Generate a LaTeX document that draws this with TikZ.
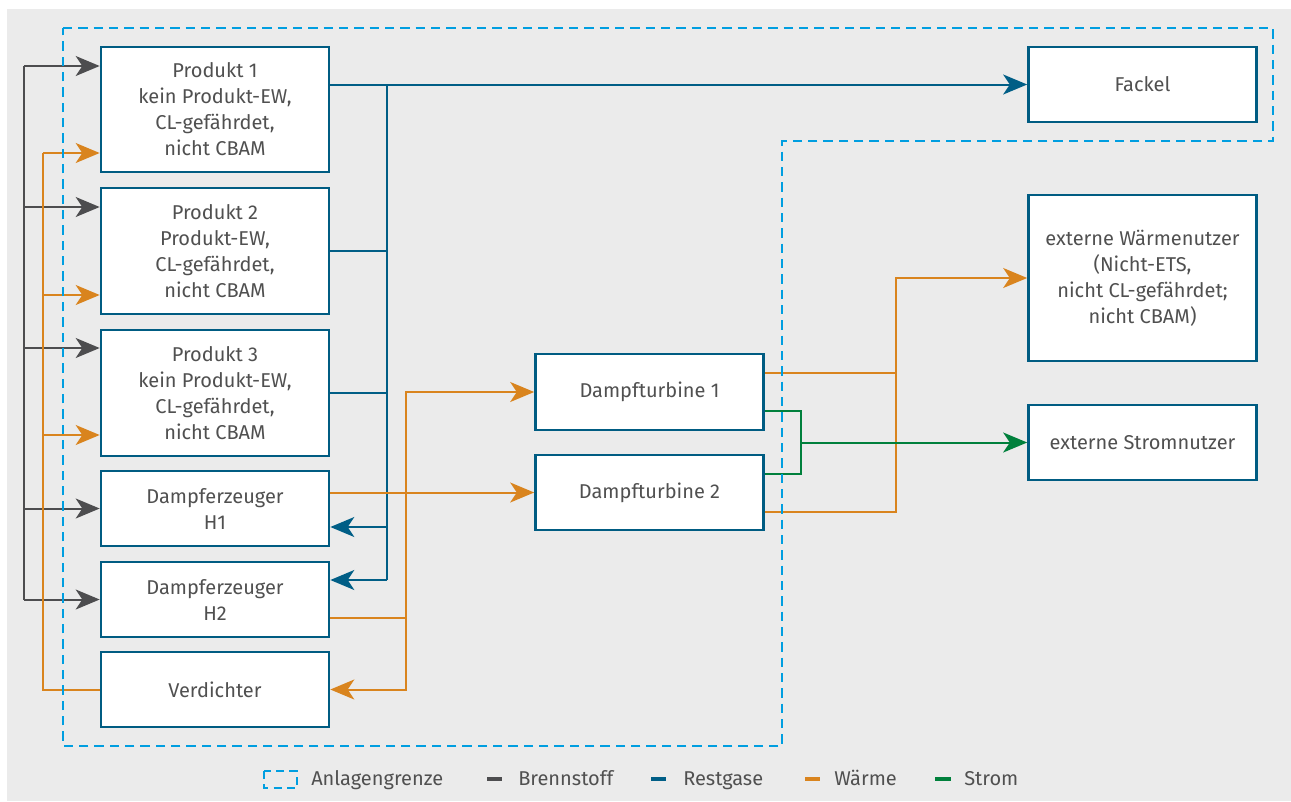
\documentclass[tikz,border=0pt]{standalone}
\usepackage{fontspec}
\setmainfont{Fira Sans}
\usetikzlibrary{arrows.meta,calc}

\definecolor{hgrund}{RGB}{235,235,235}
\definecolor{rahmen}{RGB}{0,92,130}
\definecolor{grenzfarbe}{RGB}{0,158,224}
\definecolor{bsfarbe}{RGB}{77,77,79}
\definecolor{rgfarbe}{RGB}{0,94,134}
\definecolor{wmfarbe}{RGB}{217,132,30}
\definecolor{stfarbe}{RGB}{0,128,60}
\definecolor{schrift}{RGB}{80,80,80}

\tikzset{
  anlage/.style={draw=rahmen, line width=2pt, fill=white, text=schrift,
    align=center, inner sep=0pt, minimum width=171pt,
    font=\fontsize{15}{19.5}\selectfont},
  flow/.style={-{Stealth[length=18pt,width=15pt,inset=5pt]}},
  bs/.style={draw=bsfarbe, line width=1.5pt},
  rg/.style={draw=rgfarbe, line width=1.5pt},
  wm/.style={draw=wmfarbe, line width=1.5pt},
  st/.style={draw=stfarbe, line width=1.5pt},
  grenze/.style={draw=grenzfarbe, line width=1.5pt, dash pattern=on 7pt off 4.5pt},
  legtext/.style={text=schrift, anchor=base west, inner sep=0pt,
    font=\fontsize{15}{18}\selectfont}
}

\begin{document}
\begin{tikzpicture}[x=0.75pt,y=-0.75pt]
\useasboundingbox (0,0) rectangle (1291,801);
\fill[hgrund] (7,9) rectangle (1291,801);

% Anlagenteile
\node[anlage, minimum height=93.75pt] (p1) at (215,109.5) {Produkt 1\\kein Produkt-EW,\\CL-gefährdet,\\nicht CBAM};
\node[anlage, minimum height=94.5pt] (p2) at (215,251) {Produkt 2\\Produkt-EW,\\CL-gefährdet,\\nicht CBAM};
\node[anlage, minimum height=94.5pt] (p3) at (215,393) {Produkt 3\\kein Produkt-EW,\\CL-gefährdet,\\nicht CBAM};
\node[anlage, minimum height=56.25pt] (h1) at (215,508.5) {Dampferzeuger\\H1};
\node[anlage, minimum height=56.25pt] (h2) at (215,599.5) {Dampferzeuger\\H2};
\node[anlage, minimum height=56.25pt] (vd) at (215,689.5) {Verdichter};
\node[anlage, minimum height=57pt] (dt1) at (649.5,392) {Dampfturbine 1};
\node[anlage, minimum height=56.25pt] (dt2) at (649.5,492.5) {Dampfturbine 2};
\node[anlage, minimum height=56.25pt] (fackel) at (1142.5,84.5) {Fackel};
\node[anlage, minimum height=124.5pt] (waerme) at (1142.5,278) {externe Wärmenutzer\\(Nicht-ETS,\\nicht CL-gefährdet;\\nicht CBAM)};
\node[anlage, minimum height=56.25pt] (strom) at (1142.5,442.5) {externe Stromnutzer};

% Brennstoff
\coordinate (bs1) at (24,66);
\coordinate (bs2) at (24,599.5);
\draw[bs] (bs1) -- (bs2);
\draw[bs,flow] (bs1) -- (bs1 -| p1.west);
\draw[bs,flow] (bs1 |- 0,207) -- (p2.west |- 0,207);
\draw[bs,flow] (bs1 |- 0,348) -- (p3.west |- 0,348);
\draw[bs,flow] (bs1 |- h1.west) -- (h1.west);
\draw[bs,flow] (bs2) -- (h2.west);

% Waerme links
\coordinate (wl) at (43,153);
\draw[wm] (vd.west) -| (wl);
\draw[wm,flow] (wl) -- (wl -| p1.west);
\draw[wm,flow] (wl |- 0,295) -- (p2.west |- 0,295);
\draw[wm,flow] (wl |- 0,435) -- (p3.west |- 0,435);

% Restgase
\coordinate (rg) at (387,580);
\draw[rg,flow] (p1.east |- fackel.west) -- (fackel.west);
\draw[rg] (rg |- fackel.west) -- (rg);
\draw[rg] (p2.east) -- (p2.east -| rg);
\draw[rg] (p3.east) -- (p3.east -| rg);
\draw[rg,flow] (rg |- 0,527) -- (h1.east |- 0,527);
\draw[rg,flow] (rg) -- (rg -| h2.east);

% Waerme Mitte
\coordinate (wk) at (406,618);
\draw[wm,flow] (h1.east |- dt2.west) -- (dt2.west);
\draw[wm] (h2.east |- wk) -- (wk);
\draw[wm,flow] (wk) |- (dt1.west);
\draw[wm,flow] (wk) |- (vd.east);

% Waerme rechts
\coordinate (wr) at (896,373);
\draw[wm] (dt1.east |- wr) -- (wr);
\draw[wm] (dt2.east |- 0,512) -| (wr);
\draw[wm,flow] (wr) |- (waerme.west);

% Strom
\coordinate (st) at (801,442.5);
\draw[st] (dt1.east |- 0,411) -| (st);
\draw[st] (dt2.east |- 0,474) -| (st);
\draw[st,flow] (st) -- (strom.west);

% Anlagengrenze
\draw[grenze] (63,28) -- (1273,28) -- (1273,141) -- (782,141) -- (782,746) -- (63,746) -- cycle;

% Legende
\draw[grenze, dash pattern=on 6pt off 4pt] (264,771) rectangle (297,788);
\node[legtext] (lgrenze) at (311,785) {Anlagengrenze};
\draw[bsfarbe, line width=3pt] (487,779) -- (502,779);
\node[legtext] (lbs) at (518,785) {Brennstoff};
\draw[rgfarbe, line width=3pt] (651,779) -- (666,779);
\node[legtext] (lrg) at (683,785) {Restgase};
\draw[wmfarbe, line width=3pt] (805,779) -- (820,779);
\node[legtext] (lwm) at (834,785) {Wärme};
\draw[stfarbe, line width=3pt] (935,779) -- (951,779);
\node[legtext] (lst) at (964,785) {Strom};
\end{tikzpicture}
\end{document}
